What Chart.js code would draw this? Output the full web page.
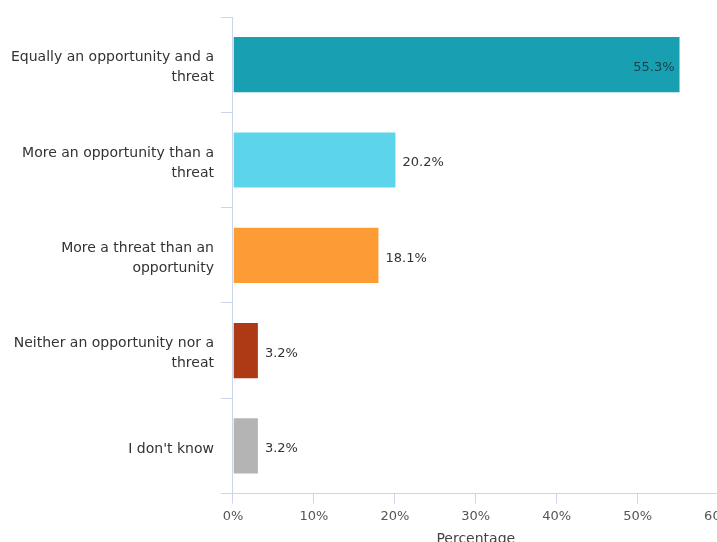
<!DOCTYPE html>
<html>
<head>
<meta charset="utf-8">
<script src="https://cdn.jsdelivr.net/npm/chart.js@4"></script>
<style>
  html, body { margin: 0; padding: 0; background: #fff; }
  #wrap { width: 717px; height: 542px; overflow: hidden; }
</style>
</head>
<body>
<div id="wrap">
  <canvas id="opinionChart" width="738" height="548"></canvas>
</div>
<script>
const categories = [
    ['Equally an opportunity and a', 'threat'],
    ['More an opportunity than a', 'threat'],
    ['More a threat than an', 'opportunity'],
    ['Neither an opportunity nor a', 'threat'],
    "I don't know"
];
const percentages = [55.3, 20.2, 18.1, 3.2, 3.2];
const barColors = ['#189fb1', '#5cd5ea', '#fd9b35', '#ad3915', '#b4b4b4'];
const xTicks = [0, 10, 20, 30, 40, 50, 60];

const axisColor = '#ccd6eb';
const fontFamily = '"DejaVu Sans", sans-serif';

// 在每根長條旁邊寫上百分比（第一根寫在長條內）
const valueLabels = {
    id: 'valueLabels',
    afterDatasetsDraw(chart) {
        const ctx = chart.ctx;
        const meta = chart.getDatasetMeta(0);
        ctx.save();
        ctx.font = '13px ' + fontFamily;
        ctx.textBaseline = 'middle';
        meta.data.forEach((bar, i) => {
            const text = percentages[i].toFixed(1) + '%';
            const y = bar.y + 3;
            if (percentages[i] > 40) {
                ctx.fillStyle = '#1d3f47';
                ctx.textAlign = 'right';
                ctx.fillText(text, bar.x - 6, y);
            } else {
                ctx.fillStyle = '#333333';
                ctx.textAlign = 'left';
                ctx.fillText(text, bar.x + 6, y);
            }
        });
        ctx.restore();
    }
};

const ctx = document.getElementById('opinionChart').getContext('2d');

const opinionChart = new Chart(ctx, {
    type: 'bar',
    data: {
        labels: categories,
        datasets: [{
            data: percentages,
            backgroundColor: barColors,
            borderColor: 'rgba(255,255,255,0.6)',
            borderWidth: 1,
            barPercentage: 0.6,
            categoryPercentage: 1.0
        }]
    },
    options: {
        indexAxis: 'y',
        responsive: false,
        animation: false,
        devicePixelRatio: 1,
        layout: {
            padding: { top: 16, left: 4, right: 0, bottom: 0 }
        },
        plugins: {
            legend: { display: false },
            tooltip: { enabled: false }
        },
        scales: {
            x: {
                min: 0,
                max: 60,
                afterBuildTicks: axis => {
                    axis.ticks = xTicks.map(v => ({ value: v }));
                },
                grid: {
                    drawOnChartArea: false,
                    tickLength: 10,
                    color: axisColor
                },
                border: { color: axisColor },
                ticks: {
                    padding: 5,
                    color: '#555555',
                    font: { family: fontFamily, size: 13 },
                    callback: value => value + '%'
                },
                title: {
                    display: true,
                    text: 'Percentage',
                    color: '#444444',
                    padding: { top: 2, bottom: 0 },
                    font: { family: fontFamily, size: 14 }
                }
            },
            y: {
                grid: {
                    drawOnChartArea: false,
                    offset: true,
                    tickLength: 12,
                    color: axisColor
                },
                border: { color: axisColor },
                ticks: {
                    padding: 7,
                    labelOffset: 3,
                    color: '#333333',
                    font: { family: fontFamily, size: 14, lineHeight: 1.43 }
                }
            }
        }
    },
    plugins: [valueLabels]
});
</script>
</body>
</html>
